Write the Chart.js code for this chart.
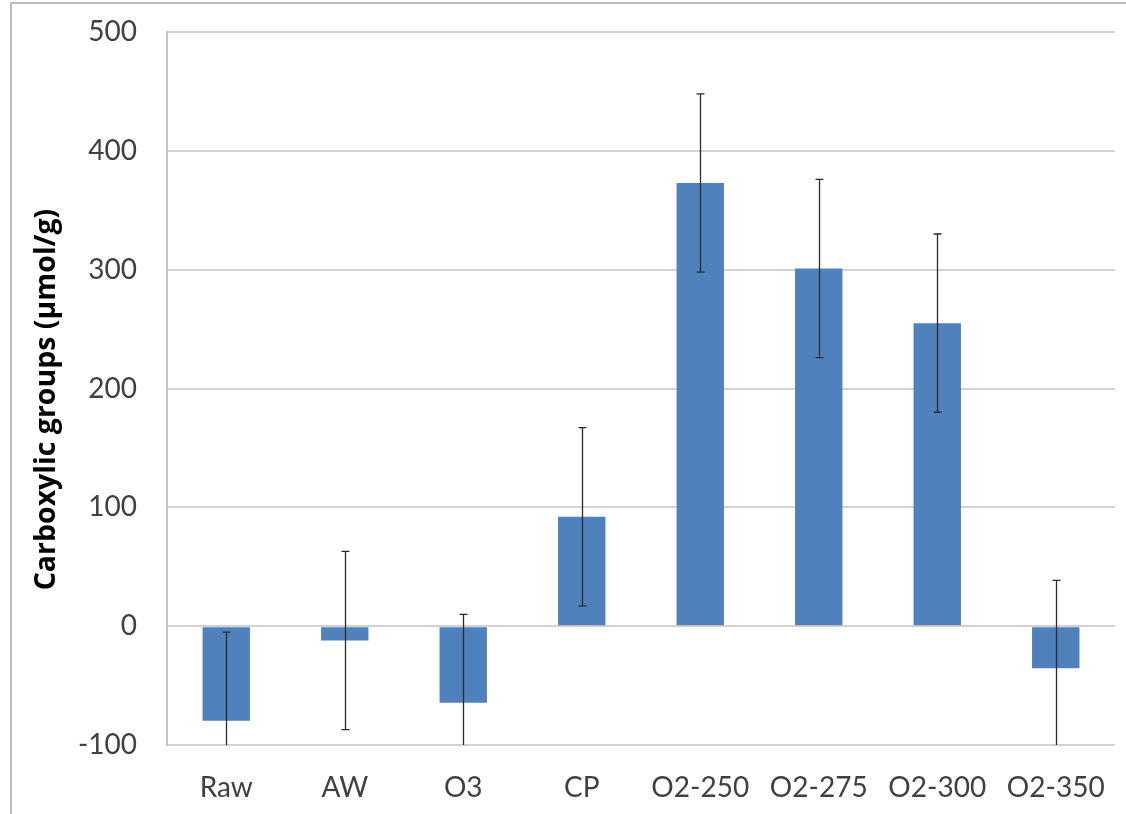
<!DOCTYPE html>
<html>
<head>
<meta charset="utf-8">
<script src="https://cdn.jsdelivr.net/npm/chart.js@4.4.1/dist/chart.umd.min.js"></script>
<style>
  html, body { margin: 0; padding: 0; background: #ffffff; }
  #wrap { width: 1126px; height: 814px; position: relative; }
</style>
</head>
<body>
<div id="wrap"><canvas id="c" width="1126" height="814"></canvas></div>
<script>
const categories = ['Raw', 'AW', 'O3', 'CP', 'O2-250', 'O2-275', 'O2-300', 'O2-350'];
const carboxylic = [-79.5, -12, -64.5, 92, 373, 301, 255, -35.5];
const errorPlusMinus = [74.5, 75, 74.5, 75, 75, 75, 75, 74];
const yTicks = [-100, 0, 100, 200, 300, 400, 500];

const errorBars = {
  id: 'errorBars',
  afterDatasetsDraw(chart) {
    const ctx = chart.ctx;
    const meta = chart.getDatasetMeta(0);
    const y = chart.scales.y;
    const area = chart.chartArea;
    ctx.save();
    ctx.beginPath();
    ctx.rect(area.left, area.top - 1, area.right - area.left, area.bottom - area.top + 1);
    ctx.clip();
    ctx.strokeStyle = '#2b2b2b';
    ctx.lineWidth = 1.3;
    meta.data.forEach((bar, i) => {
      const v = carboxylic[i], e = errorPlusMinus[i];
      const x = Math.round(bar.x) + 0.5;
      const yt = y.getPixelForValue(v + e);
      const yb = y.getPixelForValue(v - e);
      ctx.beginPath();
      ctx.moveTo(x, yt); ctx.lineTo(x, yb);
      ctx.moveTo(x - 4, yt); ctx.lineTo(x + 4, yt);
      ctx.moveTo(x - 4, yb); ctx.lineTo(x + 4, yb);
      ctx.stroke();
    });
    ctx.restore();
  }
};

const frame = {
  id: 'frame',
  beforeDraw(chart) {
    const ctx = chart.ctx;
    ctx.save();
    ctx.fillStyle = '#ffffff';
    ctx.fillRect(0, 0, chart.width, chart.height);
    ctx.strokeStyle = '#bdbdbd';
    ctx.lineWidth = 2;
    ctx.strokeRect(11, 3, chart.width + 20, chart.height + 20);
    ctx.restore();
  }
};

new Chart(document.getElementById('c'), {
  type: 'bar',
  data: {
    labels: categories,
    datasets: [{
      data: carboxylic,
      backgroundColor: '#4f81bd',
      borderWidth: 0,
      barPercentage: 0.4,
      categoryPercentage: 1.0
    }]
  },
  options: {
    responsive: false,
    animation: false,
    layout: { padding: { left: 0, top: 32, right: 11, bottom: 0 } },
    plugins: { legend: { display: false }, tooltip: { enabled: false } },
    scales: {
      x: {
        grid: { display: false, drawTicks: false },
        border: { display: false },
        ticks: { color: '#404040', font: { family: 'Lato', size: 28 }, padding: 26, maxRotation: 0 },
        afterFit(scale) {
          scale.height = 69;
          scale.paddingLeft = 0; scale.paddingRight = 0;
          scale.paddingTop = 0; scale.paddingBottom = 0;
        }
      },
      y: {
        min: -100, max: 500,
        afterBuildTicks(scale) { scale.ticks = yTicks.map(v => ({ value: v })); },
        grid: { color: '#d2d2d2', lineWidth: 2, drawTicks: false },
        border: { display: true, color: '#c4c4c4', width: 2 },
        ticks: { color: '#404040', font: { family: 'Lato', size: 28 }, padding: 30 },
        title: {
          display: true,
          text: 'Carboxylic groups (μmol/g)   ',
          color: '#000000',
          font: { family: 'Open Sans', size: 28.5, weight: 'bold' },
          padding: { top: 30, bottom: 0 }
        },
        afterFit(scale) {
          scale.width = 167;
          scale.paddingTop = 0; scale.paddingBottom = 0;
          scale.paddingLeft = 0; scale.paddingRight = 0;
        }
      }
    }
  },
  plugins: [frame, errorBars]
});
</script>
</body>
</html>
